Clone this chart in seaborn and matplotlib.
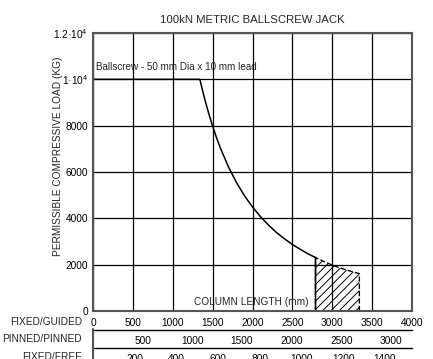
import matplotlib
matplotlib.use("Agg")
import matplotlib.pyplot as plt
from matplotlib.lines import Line2D
import pandas as pd
import seaborn as sns

# Curve (column length mm, permissible load kg)
curve_length = [0, 1340, 1370, 1400, 1450, 1500, 1550, 1600, 1700, 1800, 1900,
                2000, 2100, 2200, 2300, 2400, 2500, 2600, 2700, 2790, 2790]
curve_load = [10000, 10000, 9570, 9160, 8540, 7980, 7470, 7010, 6210, 5540, 4970,
              4490, 4070, 3710, 3390, 3120, 2870, 2660, 2460, 2310, 0]

# Hatched (extended) zone
hatch_length = [2790, 2900, 3000, 3150, 3340]
hatch_load = [2310, 2130, 1980, 1800, 1610]

x_ticks = [0, 500, 1000, 1500, 2000, 2500, 3000, 3500, 4000]
y_ticks = [0, 2000, 4000, 6000, 8000, 10000, 12000]
y_tick_labels = ["0", "2000", "4000", "6000", "8000", "1·10$^{4}$", "1.2·10$^{4}$"]
pinned_ticks = [500, 1000, 1500, 2000, 2500, 3000]
free_ticks = [200, 400, 600, 800, 1000, 1200, 1400]

sns.set_style("white")
plt.rcParams["font.family"] = ["Liberation Sans", "DejaVu Sans"]
plt.rcParams["mathtext.fontset"] = "custom"
plt.rcParams["mathtext.rm"] = "Liberation Sans"
plt.rcParams["mathtext.it"] = "Liberation Sans"
plt.rcParams["hatch.linewidth"] = 0.7

W, H = 433, 359
fig = plt.figure(figsize=(W / 100, H / 100), dpi=100)
left, right, top, bottom = 93, 412, 33, 311
ax = fig.add_axes([left / W, (H - bottom) / H, (right - left) / W, (bottom - top) / H])

df = pd.DataFrame({"length": curve_length, "load": curve_load})
sns.lineplot(data=df, x="length", y="load", ax=ax, color="black", lw=1.1,
             sort=False, estimator=None)
ax.fill_between(hatch_length, hatch_load, 0, facecolor="none", edgecolor="black",
                hatch="////", linestyle="--", lw=1.0)

ax.set_xlim(0, 4000)
ax.set_ylim(0, 12000)
ax.set_xticks(x_ticks)
ax.set_yticks(y_ticks, labels=y_tick_labels)
ax.grid(True, color="black", lw=0.9)
ax.tick_params(length=0, labelsize=7.3, colors="black")
ax.tick_params(axis="x", pad=5)
ax.tick_params(axis="y", pad=3.5)
for s in ax.spines.values():
    s.set_color("#555555")
    s.set_linewidth(1.5)

ax.set_xlabel("")
ax.set_ylabel("PERMISSIBLE COMPRESSIVE LOAD (KG)", fontsize=7.3)
ax.yaxis.set_label_coords(-0.094, 0.557)
ax.set_title("100kN METRIC BALLSCREW JACK", fontsize=8.2, pad=7)

ax.text(40, 10300, "Ballscrew - 50 mm Dia x 10 mm lead", fontsize=7.1,
        ha="left", va="bottom")
ax.text(2700, 390, "COLUMN LENGTH (mm)", fontsize=7.3, ha="right", va="center")


def scale_axis(y_px, xmax, ticks):
    a = fig.add_axes([left / W, (H - y_px) / H, (right - left) / W, 0])
    a.set_facecolor("none")
    a.set_xlim(0, xmax)
    a.set_yticks([])
    a.set_xticks(ticks)
    for name in ["left", "right", "top"]:
        a.spines[name].set_visible(False)
    a.spines["bottom"].set_color("black")
    a.spines["bottom"].set_linewidth(1.0)
    a.tick_params(axis="x", direction="out", length=3, width=0.8, pad=1.5,
                  labelsize=7.3, colors="black")
    return a


scale_axis(330, 3212, pinned_ticks)
scale_axis(348, 1531, free_ticks)
fig.add_artist(Line2D([left / W, left / W], [(H - 329) / H, 0], color="#555555", lw=1.5))

fig.text(82 / W, (H - 322) / H, "FIXED/GUIDED", fontsize=7.3, ha="right", va="center")
fig.text(82 / W, (H - 339) / H, "PINNED/PINNED", fontsize=7.3, ha="right", va="center")
fig.text(82 / W, (H - 357) / H, "FIXED/FREE", fontsize=7.3, ha="right", va="center")

fig.savefig("out.png", dpi=100)
